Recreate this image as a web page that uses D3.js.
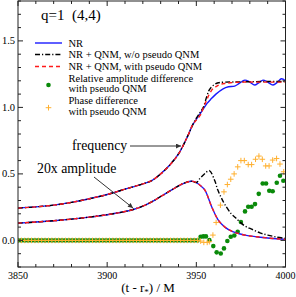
<!DOCTYPE html>
<html><head><meta charset="utf-8">
<script src="https://cdn.jsdelivr.net/npm/d3@7"></script>
<style>body{margin:0;background:#fff}svg{display:block}text{font-family:"Liberation Serif","DejaVu Serif",serif}</style>
</head><body><div id="c"></div>
<script>
// ---- data ----
const xTicks = [3850, 3900, 3950, 4000];
const yTicks = [0.0, 0.5, 1.0, 1.5];
// frequency
const freqT_common = [3850, 3860, 3870, 3880, 3890, 3900, 3910, 3920, 3925, 3930, 3935, 3940, 3945, 3948];
const freq_common  = [0.243, 0.252, 0.265, 0.286, 0.313, 0.345, 0.385, 0.425, 0.45, 0.5, 0.565, 0.65, 0.78, 0.87];
const freqNR_T = [3950, 3952, 3954, 3956, 3958, 3961, 3965, 3968, 3971.5, 3974, 3977.2, 3980, 3982.7, 3985, 3987.4, 3990, 3993, 3995.5, 3997.7, 4000];
const freqNR   = [0.91, 0.95, 0.99, 1.03, 1.06, 1.10, 1.14, 1.155, 1.16, 1.18, 1.205, 1.19, 1.168, 1.185, 1.205, 1.19, 1.168, 1.19, 1.215, 1.2];
const freqPQ_T = [3950, 3952.4, 3954, 3955.8, 3957.5, 3959.5, 3961.5, 3963.3, 3966, 3969, 3975, 3985, 4000];
const freqPQ   = [0.905, 0.945, 1.0, 1.055, 1.105, 1.143, 1.16, 1.172, 1.18, 1.185, 1.19, 1.19, 1.19];
const freqNoPQ_T = [3950, 3952, 3953.9, 3955.8, 3957.2, 3958.6, 3960.5, 3962.3, 3966, 3975, 3990, 4000];
const freqNoPQ   = [0.92, 0.96, 1.0, 1.08, 1.13, 1.155, 1.175, 1.185, 1.19, 1.192, 1.195, 1.195];
// 20x amplitude
const ampT_common = [3850, 3860, 3870, 3880, 3890, 3900, 3910, 3915, 3920, 3925, 3930, 3935, 3940, 3944, 3947.5, 3950];
const amp_common  = [0.13, 0.138, 0.148, 0.16, 0.175, 0.193, 0.217, 0.234, 0.258, 0.29, 0.33, 0.37, 0.41, 0.435, 0.445, 0.435];
const ampNR_T = [3952, 3954.8, 3958.6, 3962.3, 3966, 3970, 3974, 3978, 3982, 3986, 3990, 3995, 4000];
const ampNR   = [0.415, 0.378, 0.253, 0.153, 0.1, 0.068, 0.05, 0.038, 0.03, 0.024, 0.018, 0.012, 0.008];
const ampNoPQ_T = [3952, 3955, 3957.3, 3960.3, 3962, 3964, 3966, 3969.6, 3972, 3977, 3981, 3986, 3990, 3995, 4000];
const ampNoPQ   = [0.465, 0.505, 0.525, 0.45, 0.38, 0.32, 0.27, 0.2, 0.17, 0.11, 0.085, 0.055, 0.04, 0.025, 0.015];
// scatter: sampled differences
const tZero = [3850.0, 3851.9, 3853.8, 3855.7, 3857.6, 3859.5, 3861.4, 3863.3, 3865.2, 3867.1, 3869.0, 3870.9, 3872.8, 3874.7, 3876.6, 3878.5, 3880.4, 3882.3, 3884.2, 3886.1, 3888.0, 3889.9, 3891.8, 3893.7, 3895.6, 3897.5, 3899.4, 3901.3, 3903.2, 3905.1, 3907.0, 3908.9, 3910.8, 3912.7, 3914.6, 3916.5, 3918.4, 3920.3, 3922.2, 3924.1, 3926.0, 3927.9, 3929.8, 3931.7, 3933.6, 3935.5, 3937.4, 3939.3, 3941.2, 3943.1, 3945.0, 3946.9, 3948.8, 3950.7];
const ampDiffT = [3952.4, 3953.9, 3955.4, 3957.3, 3959.5, 3961.4, 3963.7, 3965.5, 3967.4, 3969.3, 3971.3, 3973.2, 3975.0, 3977.3, 3979.1, 3981.0, 3982.9, 3985.0, 3987.2, 3989.1, 3990.9, 3992.8, 3995.1, 3996.9, 3998.8];
const ampDiff  = [0.027, 0.03, 0.03, 0.002, -0.043, -0.09, -0.098, -0.06, -0.005, 0.027, 0.037, 0.065, 0.138, 0.218, 0.253, 0.253, 0.273, 0.35, 0.428, 0.428, 0.373, 0.37, 0.433, 0.486, 0.448];
const phaseT = [3952.4, 3954.2, 3956.1, 3957.3, 3959.3, 3961.1, 3963.5, 3965.5, 3967.4, 3969.3, 3971.2, 3973.2, 3975.0, 3976.9, 3979.1, 3981.0, 3983.2, 3985.1, 3987.0, 3988.9, 3990.8, 3992.8, 3995.0, 3996.9, 3999.0];
const phase  = [-0.005, -0.015, -0.015, -0.01, 0.04, 0.135, 0.265, 0.365, 0.42, 0.46, 0.5, 0.553, 0.6, 0.6, 0.57, 0.57, 0.61, 0.634, 0.61, 0.56, 0.56, 0.604, 0.616, 0.574, 0.516];

// ---- chart ----
const W = 296, H = 297;
const L = 18, R = 285.5, T = 1, B = 267;
const x = d3.scaleLinear().domain([3850, 4000]).range([L, R]);
const y = d3.scaleLinear().domain([-0.2, 1.8]).range([B, T]);
const svg = d3.select("#c").append("svg").attr("width", W).attr("height", H);
svg.append("defs").append("clipPath").attr("id", "clip")
  .append("rect").attr("x", L).attr("y", T).attr("width", R - L).attr("height", B - T);
const defs = svg.select("defs");
defs.append("marker").attr("id", "arr").attr("viewBox", "0 0 10 10").attr("refX", 10).attr("refY", 5)
  .attr("markerWidth", 7).attr("markerHeight", 5).attr("orient", "auto").attr("markerUnits", "userSpaceOnUse")
  .append("path").attr("d", "M0,0L10,5L0,10z").attr("fill", "#333");

const zip = (a, b) => a.map((t, i) => [t, b[i]]);
const line = d3.line().x(d => x(d[0])).y(d => y(d[1])).curve(d3.curveCatmullRom.alpha(0.5));
const g = svg.append("g").attr("clip-path", "url(#clip)");

const fc = zip(freqT_common, freq_common), ac = zip(ampT_common, amp_common);
const series = [
  {d: fc.concat(zip(freqNR_T, freqNR)), c: "#1a1aff", dash: null},
  {d: ac.concat(zip(ampNR_T, ampNR)), c: "#1a1aff", dash: null},
  {d: fc.concat(zip(freqNoPQ_T, freqNoPQ)), c: "#000", dash: "5,2,1.2,2"},
  {d: ac.concat(zip(ampNoPQ_T, ampNoPQ)), c: "#000", dash: "5,2,1.2,2"},
  {d: fc.concat(zip(freqPQ_T, freqPQ)), c: "#ff1a1a", dash: "4,3"},
  {d: ac.concat(zip(ampNR_T, ampNR)), c: "#ff1a1a", dash: "4,3"},
];
// scatter
const zeros = tZero.map(() => 0);
const greenPts = zip(tZero, zeros).concat(zip(ampDiffT, ampDiff));
const orangePts = zip(tZero, zeros).concat(zip(phaseT, phase));
g.selectAll("circle.gd").data(greenPts).join("circle").attr("class", "gd")
  .attr("cx", d => x(d[0])).attr("cy", d => y(d[1])).attr("r", 2.3).attr("fill", "#0a8a0a");
series.forEach(s => {
  g.append("path").datum(s.d).attr("d", line).attr("fill", "none").attr("stroke", s.c)
    .attr("stroke-width", 1.4).attr("stroke-dasharray", s.dash);
});
g.selectAll("path.pl").data(orangePts).join("path").attr("class", "pl")
  .attr("d", d => `M${x(d[0]) - 2.8},${y(d[1])}h5.6M${x(d[0])},${y(d[1]) - 2.8}v5.6`)
  .attr("stroke", "#ffb030").attr("stroke-width", 1);

// frame and ticks
const ax = svg.append("g").attr("stroke", "#222").attr("fill", "none");
ax.append("rect").attr("x", L).attr("y", T).attr("width", R - L).attr("height", B - T).attr("stroke-width", 1);
d3.range(3850, 4000.1, 10).forEach(v => {
  const len = v % 50 === 0 ? 5 : 3;
  ax.append("line").attr("x1", x(v)).attr("x2", x(v)).attr("y1", B).attr("y2", B - len);
  ax.append("line").attr("x1", x(v)).attr("x2", x(v)).attr("y1", T).attr("y2", T + len);
});
d3.range(-0.2, 1.81, 0.1).forEach(v => {
  const r = Math.round(v * 10);
  const len = r % 5 === 0 ? 5 : 3;
  ax.append("line").attr("y1", y(v)).attr("y2", y(v)).attr("x1", L).attr("x2", L + len);
  ax.append("line").attr("y1", y(v)).attr("y2", y(v)).attr("x1", R).attr("x2", R - len);
});
svg.selectAll("text.xt").data(xTicks).join("text").attr("class", "xt")
  .attr("x", d => x(d)).attr("y", 279).attr("text-anchor", "middle").attr("font-size", 10).text(d => d);
svg.selectAll("text.yt").data(yTicks).join("text").attr("class", "yt")
  .attr("x", 15).attr("y", d => y(d) + 3.5).attr("text-anchor", "end").attr("font-size", 10.5).text(d => d.toFixed(1));
const xl = svg.append("text").attr("x", 148).attr("y", 292).attr("text-anchor", "middle").attr("font-size", 13);
xl.append("tspan").text("(t - r");
xl.append("tspan").attr("font-size", 9).attr("dy", 3).text("*");
xl.append("tspan").attr("dy", -3).text(") / M");

// title and annotations
svg.append("text").attr("x", 41).attr("y", 20).attr("font-size", 15).attr("xml:space", "preserve").text("q=1  (4,4)");
svg.append("text").attr("x", 72).attr("y", 149.5).attr("font-size", 13.8).text("frequency");
svg.append("line").attr("x1", 130).attr("y1", 146).attr("x2", 181).attr("y2", 146)
  .attr("stroke", "#333").attr("stroke-width", 1).attr("marker-end", "url(#arr)");
svg.append("text").attr("x", 37).attr("y", 172.5).attr("font-size", 13.8).text("20x amplitude");
svg.append("line").attr("x1", 94).attr("y1", 177).attr("x2", 133).attr("y2", 208)
  .attr("stroke", "#333").attr("stroke-width", 1).attr("marker-end", "url(#arr)");

// legend
const lg = svg.append("g");
const lx1 = 35, lx2 = 62, tx = 68.5, fs = 10.5;
[[43, "#1a1aff", null, "NR"], [54.5, "#000", "5,2,1.2,2", "NR + QNM, w/o pseudo QNM"], [66.5, "#ff1a1a", "4,3", "NR + QNM, with pseudo QNM"]]
  .forEach(([yy, c, dash, label]) => {
    lg.append("line").attr("x1", lx1).attr("x2", lx2).attr("y1", yy).attr("y2", yy)
      .attr("stroke", c).attr("stroke-width", 1.4).attr("stroke-dasharray", dash);
    lg.append("text").attr("x", tx).attr("y", yy + 3.5).attr("font-size", fs).text(label);
  });
lg.append("circle").attr("cx", 48.5).attr("cy", 85).attr("r", 2.3).attr("fill", "#0a8a0a");
lg.append("text").attr("x", tx).attr("y", 81.5).attr("font-size", fs).text("Relative amplitude difference");
lg.append("text").attr("x", tx).attr("y", 92).attr("font-size", fs).text("with pseudo QNM");
lg.append("path").attr("d", "M45.7,107.7h5.6M48.5,104.9v5.6").attr("stroke", "#ffb030").attr("stroke-width", 1);
lg.append("text").attr("x", tx).attr("y", 103.5).attr("font-size", fs).text("Phase difference");
lg.append("text").attr("x", tx).attr("y", 114.5).attr("font-size", fs).text("with pseudo QNM");
</script></body></html>
